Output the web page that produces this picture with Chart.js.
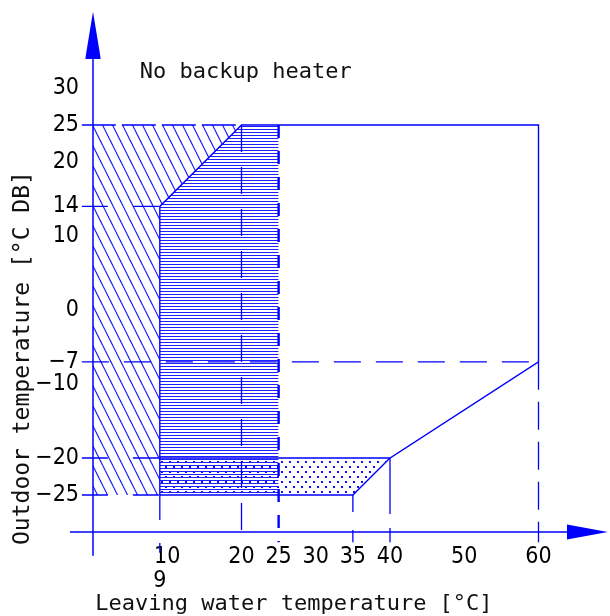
<!DOCTYPE html>
<html>
<head>
<meta charset="utf-8">
<script src="https://cdn.jsdelivr.net/npm/chart.js@4.4.0/dist/chart.umd.min.js"></script>
<style>
  html, body { margin: 0; padding: 0; background: #fff; }
  canvas { display: block; }
</style>
</head>
<body>
<canvas id="grafico" width="610" height="616"></canvas>
<script>
// Operation range diagram: leaving water temp (x) vs outdoor temp (y)

const xTicks = [9, 10, 20, 25, 30, 35, 40, 50, 60];
const yTicks = [-25, -20, -10, -7, 0, 10, 14, 20, 25, 30];

// region outlines, [water °C, outdoor °C]
const envelope = [[9, -25], [9, 14], [20, 25], [60, 25], [60, -7], [40, -20], [9, -20]];
const bottomEdge = [[9, -25], [35, -25], [40, -20]];

// hatched areas (edge line + level it is filled to)
const hatchDiag = [[0, -25], [9, -25], [9, 14], [20, 25]];   // up to 25
const hatchHoriz = [[9, 14], [20, 25], [25, 25]];             // down to -25
const hatchDots = [[9, -25], [35, -25], [40, -20]];           // up to -20

// guide lines: [outdoor temp, ends at water temp] and [water temp, starts at outdoor temp]
const guidesY = [[25, 20], [14, 9], [-7, 60], [-20, 9], [-25, 9]];
const guidesX = [[9, -25], [20, 25], [25, 25], [35, -25], [40, -20], [60, -7]];

const noteText = 'No backup heater';
const notePos = [6.3, 32.1];

// ---- styles ----
const AZUL = '#0000ff';
const AXIS_Y = -30;
const dashY = { '25': [34, 6], '14': [26, 25], '-7': [27, 15], '-20': [26, 25], '-25': [26, 25] };
const dashX = { '9': [25, 23], '20': [27, 15], '25': [13, 13], '35': [17, 18], '40': [56, 14], '60': [28, 12] };
const endX = { '9': -32.8 };

const fonteNum = '"Liberation Sans Narrow", "DejaVu Sans Condensed", "Arial Narrow", sans-serif';
const fonteMono = '"DejaVu Sans Mono", "Liberation Mono", monospace';

function padrao(w, h, desenha) {
  const c = document.createElement('canvas');
  c.width = w; c.height = h;
  const g = c.getContext('2d');
  desenha(g, w, h);
  return g.createPattern(c, 'repeat');
}

const padDiag = padrao(10, 20, (g, w, h) => {
  g.strokeStyle = '#1a1aff';
  g.lineWidth = 1.2;
  for (const dx of [-w, 0, w]) {
    g.beginPath();
    g.moveTo(dx - w * 0.2, -h * 0.2);
    g.lineTo(dx + w * 1.2, h * 1.2);
    g.stroke();
  }
});
const padHoriz = padrao(8, 9, g => {
  g.fillStyle = '#2020ff';
  g.fillRect(0, 0, 8, 1);
  g.fillRect(0, 3, 8, 1);
  g.fillRect(0, 6, 8, 1);
});
const padDots = padrao(8, 10, g => {
  g.fillStyle = '#1010ff';
  g.fillRect(1, 1, 2, 2);
  g.fillRect(5, 6, 2, 2);
});

const xy = pts => pts.map(([x, y]) => ({ x, y }));

function linha(pts, extra) {
  return Object.assign({
    data: xy(pts),
    borderColor: AZUL,
    borderWidth: 1.4,
    pointRadius: 0,
    tension: 0,
    fill: false,
    clip: false,
    order: 0
  }, extra || {});
}

function area(pts, nivel, fundo) {
  return {
    data: xy(pts),
    borderColor: 'rgba(0,0,0,0)',
    borderWidth: 1,
    backgroundColor: fundo,
    pointRadius: 0,
    tension: 0,
    fill: { value: nivel },
    order: 10
  };
}

const datasets = [
  area(hatchDiag, 25, padDiag),
  area(hatchHoriz, -25, padHoriz),
  area(hatchDots, -20, padDots),
  linha(envelope),
  linha(bottomEdge),
  // axes
  linha([[0, -33.2], [0, 34]], { borderWidth: 1.5 }),
  linha([[-3.1, AXIS_Y], [64, AXIS_Y]], { borderWidth: 1.5 }),
  // arrow heads
  area([[-1.05, 33.9], [0, 40.3], [1.05, 33.9]], 33.9, AZUL),
  area([[63.84, AXIS_Y + 1.01], [69.35, AXIS_Y]], AXIS_Y, AZUL),
  area([[63.84, AXIS_Y - 1.01], [69.35, AXIS_Y]], AXIS_Y, AZUL)
];

guidesY.forEach(([y, ate]) => {
  datasets.push(linha([[-1.5, y], [ate, y]], { borderDash: dashY[String(y)], borderWidth: 1.3 }));
});
guidesX.forEach(([x, de]) => {
  const fim = endX[String(x)] !== undefined ? endX[String(x)] : AXIS_Y - 1.4;
  datasets.push(linha([[x, de], [x, fim]], {
    borderDash: dashX[String(x)],
    borderWidth: x === 25 ? 2.4 : 1.3
  }));
});

const notaPlugin = {
  id: 'nota',
  afterDatasetsDraw(chart) {
    const { ctx, scales } = chart;
    ctx.save();
    ctx.fillStyle = '#111';
    ctx.font = '22px ' + fonteMono;
    ctx.textBaseline = 'middle';
    ctx.textAlign = 'left';
    ctx.fillText(noteText, scales.x.getPixelForValue(notePos[0]), scales.y.getPixelForValue(notePos[1]));
    ctx.restore();
  }
};

const rotulo = v => (v < 0 ? '\u2212' + Math.abs(v) : String(v));

// no automatic label overflow padding: the chart area must stay fixed
function semPadding(s) {
  s.paddingTop = 0; s.paddingBottom = 0;
  s.paddingLeft = 0; s.paddingRight = 0;
}

new Chart(document.getElementById('grafico'), {
  type: 'line',
  data: { datasets },
  plugins: [notaPlugin],
  options: {
    responsive: false,
    animation: false,
    devicePixelRatio: 1,
    layout: { padding: 0 },
    plugins: {
      legend: { display: false },
      tooltip: { enabled: false },
      title: { display: false }
    },
    scales: {
      x: {
        type: 'linear',
        min: -1.481,
        max: 69.63,
        grid: { display: false, drawTicks: false },
        border: { display: false },
        afterBuildTicks: s => { s.ticks = xTicks.map(v => ({ value: v })); },
        afterFit: s => { s.height = 71; semPadding(s); },
        ticks: {
          autoSkip: false,
          maxRotation: 0,
          minRotation: 0,
          padding: 0,
          color: '#000',
          font: { family: fonteNum, size: 23, lineHeight: 1.05 },
          callback: v => (v === 9 ? ['', '9'] : rotulo(v))
        },
        title: {
          display: true,
          text: ' Leaving water temperature [°C]',
          align: 'start',
          color: '#111',
          padding: { top: 0, bottom: 0 },
          font: { family: fonteMono, size: 22, lineHeight: 1.1 }
        }
      },
      y: {
        type: 'linear',
        min: -31.76,
        max: 41.89,
        grid: { display: false, drawTicks: false },
        border: { display: false },
        afterBuildTicks: s => { s.ticks = yTicks.map(v => ({ value: v })); },
        afterFit: s => { s.width = 82; semPadding(s); },
        ticks: {
          autoSkip: false,
          padding: 3,
          color: '#000',
          font: { family: fonteNum, size: 23, lineHeight: 1.05 },
          callback: v => rotulo(v)
        },
        title: {
          display: true,
          text: 'Outdoor temperature [°C DB]',
          align: 'start',
          color: '#111',
          padding: { top: 9, bottom: 0 },
          font: { family: fonteMono, size: 23, lineHeight: 1.2 }
        }
      }
    }
  }
});
</script>
</body>
</html>
